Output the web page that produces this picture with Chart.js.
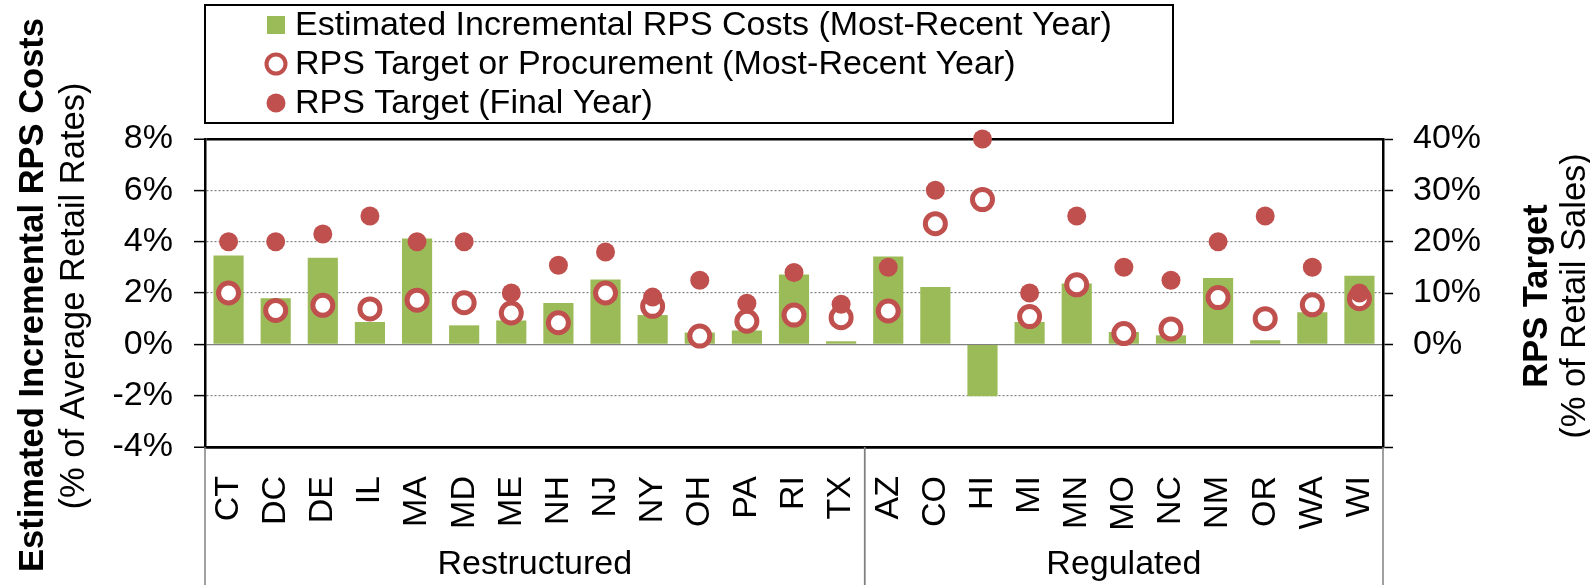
<!DOCTYPE html>
<html>
<head>
<meta charset="utf-8">
<script src="https://cdn.jsdelivr.net/npm/chart.js@4.4.1/dist/chart.umd.min.js"></script>
<style>
  body { margin: 0; background: #fff; }
</style>
</head>
<body>
<canvas id="myChart" width="1590" height="585"></canvas>
<script>
// data
const states = ["CT", "DC", "DE", "IL", "MA", "MD", "ME", "NH", "NJ", "NY", "OH", "PA", "RI", "TX",
                "AZ", "CO", "HI", "MI", "MN", "MO", "NC", "NM", "OR", "WA", "WI"];
const groupNames = ["Restructured", "Regulated"];
const groupSizes = [14, 11];

// % of average retail rates (left axis)
const rpsCosts = [3.46, 1.80, 3.37, 0.87, 4.12, 0.74, 0.93, 1.61, 2.53, 1.14, 0.46, 0.54, 2.72, 0.12,
                  3.42, 2.23, -2.02, 0.87, 2.37, 0.48, 0.35, 2.58, 0.16, 1.25, 2.67];
// % of retail sales (right axis)
const recentTarget = [10.0, 6.6, 7.6, 6.9, 8.6, 8.1, 6.1, 4.2, 10.0, 7.4, 1.6, 4.5, 5.7, 5.2,
                      6.5, 23.5, 28.2, 5.4, 11.6, 2.1, 3.0, 9.1, 5.0, 7.7, 8.9];
const finalTarget = [20, 20, 21.5, 25, 20, 20, 10, 15.4, 18, 9.2, 12.5, 8, 14, 7.8,
                     15, 30, 40, 10, 25, 15, 12.5, 20, 25, 15, 10];

const leftTicks = [-4, -2, 0, 2, 4, 6, 8];
const rightTicks = [-20, -10, 0, 10, 20, 30, 40];

const FONT = '"Liberation Sans", Arial, sans-serif';
const SIZE = 34;
const GREEN = '#9BBB59';
const RED = '#C0504D';

const extras = {
    id: 'extras',
    afterDraw(chart) {
        const { ctx, chartArea: area, scales: { x } } = chart;
        ctx.save();
        ctx.fillStyle = '#000';

        // legend with frame
        ctx.lineWidth = 2;
        ctx.strokeStyle = '#000';
        ctx.strokeRect(205, 5, 968, 118);
        ctx.font = SIZE + 'px ' + FONT;
        ctx.textBaseline = 'middle';
        ctx.textAlign = 'left';
        chart.data.datasets.forEach((ds, i) => {
            const cy = 25 + i * 39;
            if (ds.type === 'bar') {
                ctx.fillStyle = ds.backgroundColor;
                ctx.fillRect(267, cy - 9, 18, 18);
            } else if (ds.pointBorderWidth > 0) {
                ctx.beginPath();
                ctx.arc(276, cy, 9.5, 0, Math.PI * 2);
                ctx.fillStyle = '#fff';
                ctx.fill();
                ctx.lineWidth = 4;
                ctx.strokeStyle = ds.pointBorderColor;
                ctx.stroke();
            } else {
                ctx.beginPath();
                ctx.arc(276, cy, 9.5, 0, Math.PI * 2);
                ctx.fillStyle = ds.pointBackgroundColor;
                ctx.fill();
            }
            ctx.fillStyle = '#000';
            ctx.fillText(ds.label, 295, cy + 1);
        });

        // axis titles, both read bottom to top
        const vtext = (txt, cx, cy, bold) => {
            ctx.save();
            ctx.translate(cx, cy);
            ctx.rotate(-Math.PI / 2);
            ctx.textAlign = 'center';
            ctx.font = (bold ? 'bold ' : '') + '34.5px ' + FONT;
            ctx.fillText(txt, 0, 0);
            ctx.restore();
        };
        vtext('Estimated Incremental RPS Costs', 33, 295, true);
        vtext('(% of Average Retail Rates)', 74, 296, false);
        vtext('RPS Target', 1537, 296, true);
        vtext('(% of Retail Sales)', 1575, 296, false);

        // category groups under the axis
        const half = (x.getPixelForValue(1) - x.getPixelForValue(0)) / 2;
        ctx.strokeStyle = '#808080';
        ctx.lineWidth = 1.5;
        ctx.font = SIZE + 'px ' + FONT;
        ctx.textAlign = 'center';
        let start = 0;
        groupSizes.forEach((n, g) => {
            const x0 = x.getPixelForValue(start) - half;
            const x1 = x.getPixelForValue(start + n - 1) + half;
            [x0, x1].forEach(px => {
                ctx.beginPath();
                ctx.moveTo(px, area.bottom);
                ctx.lineTo(px, chart.height);
                ctx.stroke();
            });
            ctx.fillText(groupNames[g], (x0 + x1) / 2, 565);
            start += n;
        });
        ctx.restore();
    }
};

const edge = (v) => v === leftTicks[0] || v === leftTicks[leftTicks.length - 1];

new Chart(document.getElementById('myChart'), {
    data: {
        labels: states,
        datasets: [
            {
                type: 'bar',
                label: 'Estimated Incremental RPS Costs (Most-Recent Year)',
                data: rpsCosts,
                backgroundColor: GREEN,
                yAxisID: 'y',
                order: 3,
                barPercentage: 0.64,
                categoryPercentage: 1
            },
            {
                type: 'line',
                label: 'RPS Target or Procurement (Most-Recent Year)',
                data: recentTarget,
                showLine: false,
                yAxisID: 'y1',
                order: 2,
                clip: false,
                pointRadius: 10,
                pointBorderWidth: 5,
                pointBorderColor: RED,
                pointBackgroundColor: '#fff'
            },
            {
                type: 'line',
                label: 'RPS Target (Final Year)',
                data: finalTarget,
                showLine: false,
                yAxisID: 'y1',
                order: 1,
                clip: false,
                pointRadius: 9.5,
                pointBorderWidth: 0,
                pointBackgroundColor: RED
            }
        ]
    },
    options: {
        responsive: false,
        animation: false,
        events: [],
        layout: { padding: { top: 139 } },
        plugins: {
            legend: { display: false },
            tooltip: { enabled: false }
        },
        scales: {
            x: {
                grid: { display: false },
                border: { color: '#000', width: 2.5 },
                ticks: {
                    color: '#000',
                    font: { family: FONT, size: SIZE },
                    minRotation: 90,
                    maxRotation: 90,
                    autoSkip: false,
                    padding: 21
                },
                afterFit: (s) => { s.height = 138; }
            },
            y: {
                position: 'left',
                min: leftTicks[0],
                max: leftTicks[leftTicks.length - 1],
                afterBuildTicks: (s) => { s.ticks = leftTicks.map(v => ({ value: v })); },
                ticks: {
                    color: '#000',
                    font: { family: FONT, size: SIZE },
                    padding: 21,
                    callback: (v) => v + '%'
                },
                grid: {
                    color: (c) => edge(c.tick.value) ? '#000' : '#808080',
                    lineWidth: (c) => edge(c.tick.value) ? 2.5 : 1.2,
                    tickColor: '#000',
                    tickWidth: 1.5,
                    tickLength: 11
                },
                border: {
                    color: '#000',
                    width: 2.5,
                    dash: (c) => (c.tick && c.tick.value !== 0 && !edge(c.tick.value)) ? [2, 2] : []
                },
                afterFit: (s) => { s.width = 205; }
            },
            y1: {
                position: 'right',
                min: rightTicks[0],
                max: rightTicks[rightTicks.length - 1],
                afterBuildTicks: (s) => { s.ticks = rightTicks.map(v => ({ value: v })); },
                ticks: {
                    color: '#000',
                    font: { family: FONT, size: SIZE },
                    padding: 20,
                    callback: (v) => v < 0 ? '' : v + '%'
                },
                grid: {
                    drawOnChartArea: false,
                    tickColor: '#000',
                    tickWidth: 1.5,
                    tickLength: 10
                },
                border: { color: '#000', width: 2.5 },
                afterFit: (s) => { s.width = 207; }
            }
        }
    },
    plugins: [extras]
});
</script>
</body>
</html>
